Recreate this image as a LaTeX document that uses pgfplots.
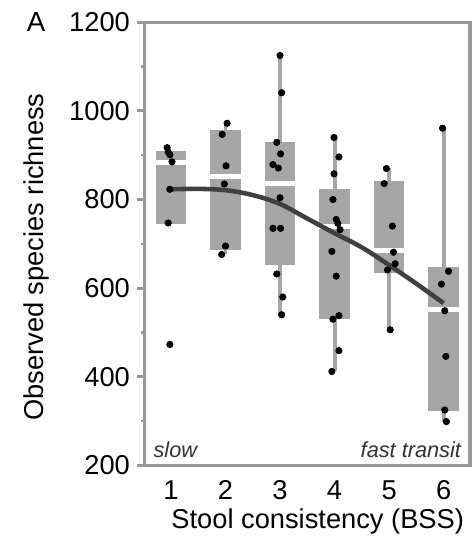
\documentclass[border=0pt]{standalone}
\usepackage{pgfplots}
\pgfplotsset{compat=1.18}
\usepackage{fontspec}
\setmainfont{Liberation Sans}

\definecolor{boxgray}{RGB}{166,166,166}
\definecolor{framegray}{RGB}{153,153,153}
\definecolor{curvegray}{RGB}{64,64,64}

\begin{document}
\begin{tikzpicture}
\begin{axis}[
  scale only axis,
  width=164.5pt, height=224.25pt,
  xmin=0.52, xmax=6.48,
  ymin=200, ymax=1200,
  xtick={1,...,6},
  ytick={200,400,...,1200},
  minor y tick num=1,
  ytick pos=left,
  tick align=outside,
  major x tick style={draw=none},
  major y tick style={framegray, line width=1.5pt},
  minor y tick style={framegray, line width=1.3pt},
  major tick length=4pt,
  minor tick length=1.8pt,
  axis line style={framegray, line width=1.7pt},
  /pgf/number format/assume math mode=true,
  /pgf/number format/1000 sep={},
  ticklabel style={font=\fontsize{13.8}{16}\selectfont},
  xlabel={Stool consistency (BSS)},
  ylabel={Observed species richness},
  label style={font=\fontsize{13.8}{16}\selectfont},
  xlabel style={at={(axis description cs:0.532,-0.127)}, anchor=center},
  ylabel style={at={(axis description cs:-0.333,0.470)}, anchor=center},
  unbounded coords=jump,
  clip=false,
]

% whiskers (quartile to whisker end)
\addplot[boxgray, line width=2pt] coordinates {
  (2,956) (2,972) (2,nan) (2,686) (2,676) (2,nan)
  (3,929) (3,1125) (3,nan) (3,652) (3,540) (3,nan)
  (4,823) (4,940) (4,nan) (4,530) (4,412) (4,nan)
  (5,842) (5,870) (5,nan) (5,634) (5,506) (5,nan)
  (6,647) (6,961) (6,nan) (6,323) (6,299)
};

% boxes: lower quartile to upper quartile, width 0.56
\addplot[fill=boxgray, draw=none] coordinates {(0.72,745) (1.28,745) (1.28,910) (0.72,910)};
\addplot[fill=boxgray, draw=none] coordinates {(1.72,686) (2.28,686) (2.28,956) (1.72,956)};
\addplot[fill=boxgray, draw=none] coordinates {(2.72,652) (3.28,652) (3.28,929) (2.72,929)};
\addplot[fill=boxgray, draw=none] coordinates {(3.72,530) (4.28,530) (4.28,823) (3.72,823)};
\addplot[fill=boxgray, draw=none] coordinates {(4.72,634) (5.28,634) (5.28,842) (4.72,842)};
\addplot[fill=boxgray, draw=none] coordinates {(5.72,323) (6.28,323) (6.28,647) (5.72,647)};

% medians
\addplot[white, line width=2.5pt] coordinates {
  (0.72,884) (1.28,884) (1.28,nan)
  (1.72,853) (2.28,853) (2.28,nan)
  (2.72,836) (3.28,836) (3.28,nan)
  (3.72,739) (4.28,739) (4.28,nan)
  (4.72,684) (5.28,684) (5.28,nan)
  (5.72,551) (6.28,551)
};

% fitted trend
\addplot[curvegray, line width=2.3pt, smooth, tension=0.6] coordinates {
  (1,823) (1.5,824) (2,821) (2.5,810) (3,790) (3.5,757)
  (4,724) (4.5,692) (5,652) (5.5,610) (6,566)
};

% samples
\addplot[only marks, mark=*, mark size=1.6pt, black] coordinates {
  (0.93,917) (0.95,907) (0.98,901) (1.02,885) (0.98,823) (0.95,747) (0.98,473)
  (2.03,972) (1.94,947) (2.01,876) (1.98,835) (2.00,695) (1.93,676)
  (3.00,1125) (3.03,1041) (2.94,929) (3.01,903) (2.87,879) (2.97,871)
  (3.00,804) (2.87,735) (3.01,735) (2.94,632) (3.05,580) (3.03,540)
  (3.99,940) (4.08,896) (3.99,858) (3.97,800) (4.03,755) (4.06,746) (4.10,732)
  (3.95,683) (4.03,627) (4.08,538) (3.97,530) (4.08,459) (3.95,412)
  (4.95,870) (4.91,836) (5.06,740) (5.08,681) (5.11,655) (4.97,641) (5.02,506)
  (5.98,961) (6.09,638) (5.96,609) (6.02,549) (6.04,446) (6.02,325) (6.05,299)
};

\node[anchor=west, inner sep=0pt, font=\fontsize{11}{13}\selectfont\itshape, text=black!80]
  at (rel axis cs:0.026,0.036) {slow};
\node[anchor=east, inner sep=0pt, font=\fontsize{11}{13}\selectfont\itshape, text=black!80]
  at (rel axis cs:0.974,0.036) {fast transit};
\node[anchor=center, font=\fontsize{14}{16}\selectfont]
  at (rel axis cs:-0.334,1.001) {A};

\coordinate (bbA) at (rel axis cs:-0.4453,-0.1561);
\coordinate (bbB) at (rel axis cs:1.0046,1.0502);
\end{axis}
\path (bbA) rectangle (bbB);
\end{tikzpicture}
\end{document}
